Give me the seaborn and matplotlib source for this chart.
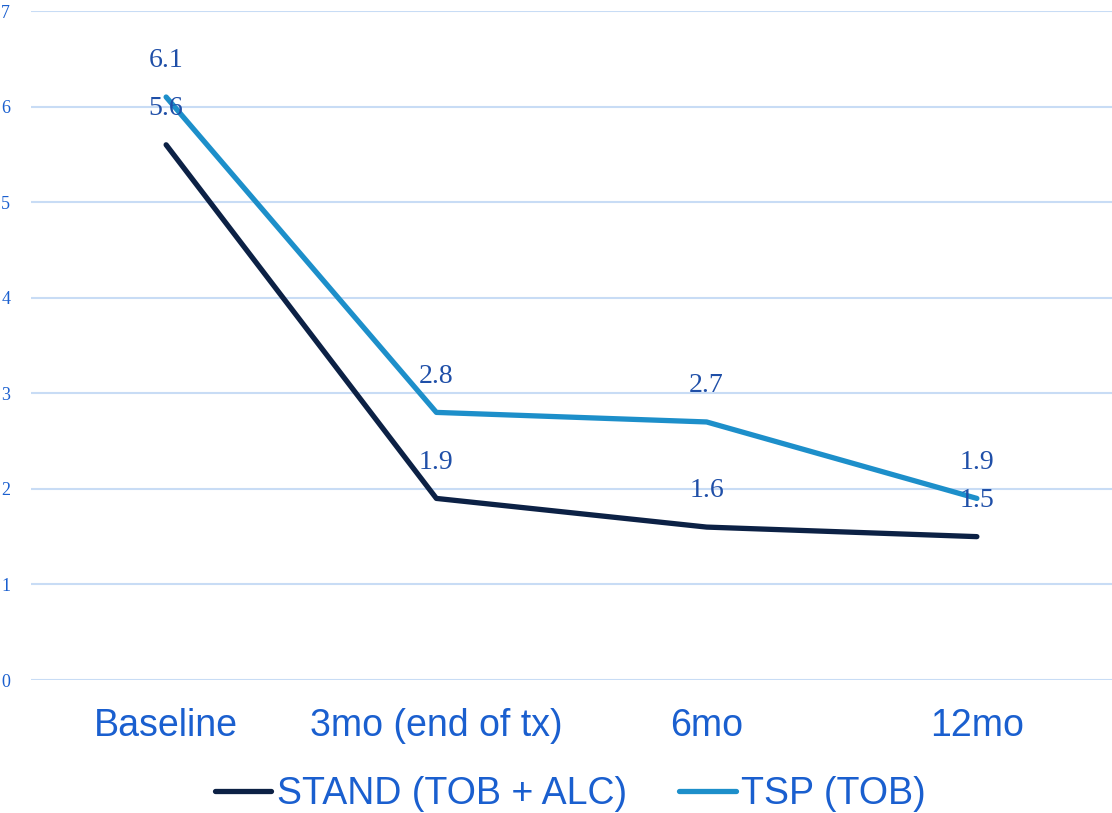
import matplotlib
matplotlib.use("Agg")
import matplotlib.pyplot as plt
import seaborn as sns
import pandas as pd
from matplotlib.lines import Line2D

# Timepoints and mean values for each treatment arm
timepoints = ["Baseline", "3mo (end of tx)", "6mo", "12mo"]
stand_values = [5.6, 1.9, 1.6, 1.5]
tsp_values = [6.1, 2.8, 2.7, 1.9]
series_names = ["STAND (TOB + ALC)", "TSP (TOB)"]
y_ticks = [0, 1, 2, 3, 4, 5, 6, 7]

df = pd.DataFrame({
    "time": timepoints * 2,
    "value": stand_values + tsp_values,
    "series": [series_names[0]] * 4 + [series_names[1]] * 4,
})

sns.set_theme(style="white")

text_blue = "#1a5fcf"
label_blue = "#1f4fa8"
palette = {series_names[0]: "#0c2145", series_names[1]: "#1d8fca"}

fig = plt.figure(figsize=(11.12, 8.13), dpi=100)
ax = fig.add_axes([31 / 1112, 1 - 680 / 813, 1 - 31 / 1112, (680 - 11) / 813])

sns.lineplot(data=df, x="time", y="value", hue="series", palette=palette,
             sort=False, linewidth=3.8, ax=ax, legend=False,
             solid_capstyle="round")

ax.set_xlim(-0.5, len(timepoints) - 0.5)
ax.set_ylim(0, 7)
ax.set_yticks(y_ticks)
ax.set_yticklabels([str(t) for t in y_ticks], family="Liberation Serif",
                   fontsize=13, color=text_blue, ha="left")
ax.set_xticks(range(len(timepoints)))
ax.set_xticklabels(timepoints, family="Liberation Sans", fontsize=27,
                   color=text_blue)
ax.tick_params(axis="y", length=0, pad=21.5)
ax.tick_params(axis="x", length=0, pad=20)
ax.yaxis.grid(True, color="#c8dcf5", linewidth=1.5)
ax.xaxis.grid(False)
for s in ax.spines.values():
    s.set_visible(False)
ax.set_xlabel("")
ax.set_ylabel("")

# Value labels above each point
for vals in (stand_values, tsp_values):
    for i, v in enumerate(vals):
        ax.annotate(f"{v:.1f}", (i, v), xytext=(0, 26), textcoords="offset points",
                    ha="center", va="center", family="Liberation Serif",
                    fontsize=20, color=label_blue, zorder=5)

# Legend below the axis
handles = [Line2D([0], [0], color=palette[n], linewidth=3.8,
                  solid_capstyle="round") for n in series_names]
leg = fig.legend(handles, series_names, loc="center", bbox_to_anchor=(0.513, 1 - 794 / 813),
                 ncol=2, frameon=False, handlelength=1.5, handletextpad=0.15,
                 columnspacing=1.4, prop={"family": "Liberation Sans", "size": 27})
for t in leg.get_texts():
    t.set_color(text_blue)

fig.savefig("out.png", dpi=100)
